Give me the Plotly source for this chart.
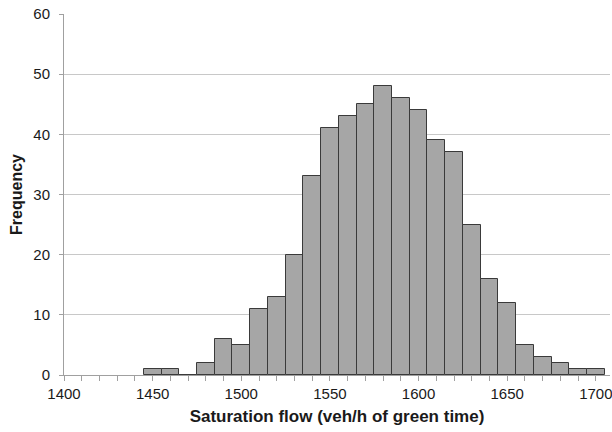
import plotly.graph_objects as go

# Histogram of observed saturation flows, 10 veh/h bins (bin centres)
bin_centres = [1450, 1460, 1470, 1480, 1490, 1500, 1510, 1520, 1530, 1540,
               1550, 1560, 1570, 1580, 1590, 1600, 1610, 1620, 1630, 1640,
               1650, 1660, 1670, 1680, 1690, 1700]
frequency = [1, 1, 0, 2, 6, 5, 11, 13, 20, 33,
             41, 43, 45, 48, 46, 44, 39, 37, 25, 16,
             12, 5, 3, 2, 1, 1]
x_tick_values = [1400, 1450, 1500, 1550, 1600, 1650, 1700]
y_tick_values = [0, 10, 20, 30, 40, 50, 60]

font_family = "Liberation Sans, Arial, sans-serif"

fig = go.Figure(
    go.Bar(
        x=bin_centres,
        y=frequency,
        width=10,
        marker=dict(color="#a6a6a6", line=dict(color="#3a3a3a", width=1)),
    )
)

fig.update_layout(
    width=612,
    height=432,
    margin=dict(l=64, r=0, t=14, b=57),
    paper_bgcolor="white",
    plot_bgcolor="white",
    showlegend=False,
    bargap=0,
    font=dict(family=font_family, size=15, color="#1a1a1a"),
)

fig.update_xaxes(
    range=[1400, 1708],
    tickmode="array",
    tickvals=x_tick_values,
    ticktext=[str(v) for v in x_tick_values],
    ticks="outside",
    ticklen=5,
    tickcolor="#a0a0a0",
    minor=dict(dtick=10, tick0=1400, ticks="outside", ticklen=5, tickcolor="#a0a0a0", showgrid=False),
    showgrid=False,
    showline=True,
    linecolor="#a0a0a0",
    linewidth=1,
    zeroline=False,
    tickfont=dict(size=15),
    ticklabeloverflow="allow",
    title=dict(text="<b>Saturation flow (veh/h of green time)</b>", font=dict(size=17), standoff=9),
)

fig.update_yaxes(
    range=[0, 60],
    tickmode="array",
    tickvals=y_tick_values,
    ticks="outside",
    ticklen=4,
    tickcolor="#a0a0a0",
    ticklabelstandoff=6,
    showgrid=True,
    gridcolor="#c8c8c8",
    gridwidth=1,
    showline=True,
    linecolor="#a0a0a0",
    linewidth=1,
    zeroline=False,
    tickfont=dict(size=15),
    title=dict(text="<b>Frequency</b>", font=dict(size=16), standoff=6),
)

fig.write_html("out.html")
